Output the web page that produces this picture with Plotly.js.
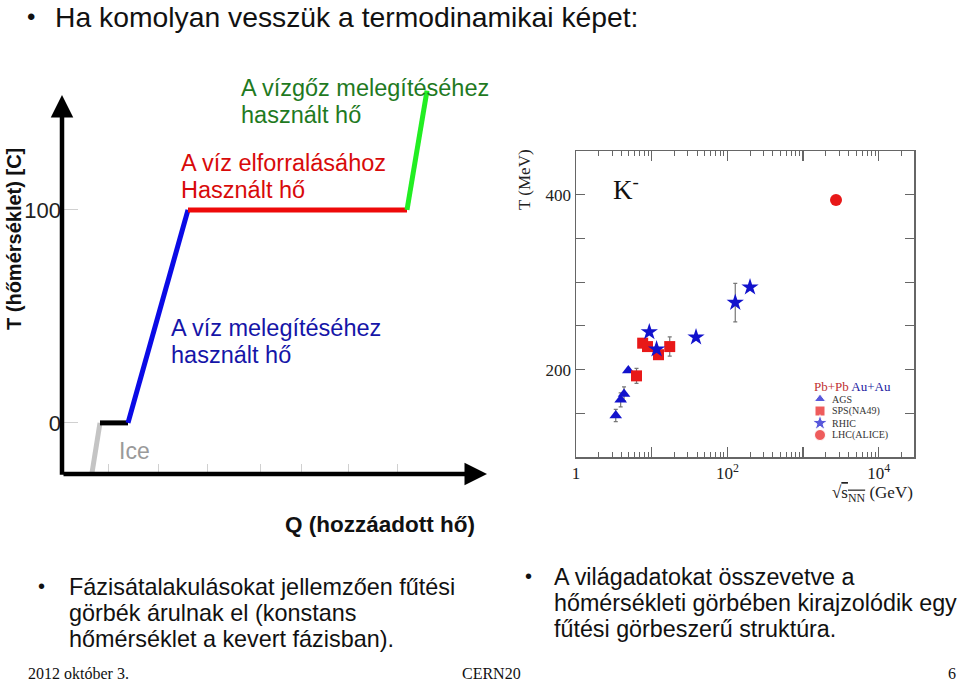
<!DOCTYPE html>
<html>
<head>
<meta charset="utf-8">
<script src="https://cdn.plot.ly/plotly-3.0.1.min.js"></script>
<style>html,body{margin:0;padding:0;background:#fff;}#chart{width:960px;height:684px;}</style>
</head>
<body>
<div id="chart"></div>
<script>
// ---- Left chart: heating curve of water ----
const phaseQ = [30, 38, 66, 126, 345, 365];
const phaseT = [-23.5, 0, 0, 100, 100, 156];
const segmentNames = ['Ice heating', 'Melting', 'Water heating', 'Boiling', 'Steam heating'];
const leftTickVals = [0, 100];
const leftTickText = ['0', '100'];
const leftXTickVals = [46, 96, 145, 198, 239, 286, 335];

// ---- Right chart: K- slope parameter vs sqrt(sNN) ----
const agsE = [3.35, 3.89, 4.31, 4.91];
const agsT = [147.4, 165.4, 172.2, 199];
const agsErr = [7, 8, 8, 0];
const spsE = [6.3, 7.6, 8.8, 12.3, 17.3];
const spsT = [192.8, 230.2, 226.3, 217, 226.3];
const spsErr = [8.5, 4, 4, 5, 11];
const rhicE = [9.3, 11.6, 38.5, 127, 199];
const rhicT = [243, 223.3, 237, 276.6, 294.2];
const rhicErr = [0, 3, 0, 22, 0];
const lhcE = [2722];
const lhcT = [394];
const seriesNames = ['AGS', 'SPS(NA49)', 'RHIC', 'LHC(ALICE)'];
const rightXTickVals = [1, 10, 100, 1000, 10000];
const rightXTickText = ['1', '', '10<sup>2</sup>', '', '10<sup>4</sup>'];
const rightYTickVals = [150, 200, 250, 300, 350, 400];
const rightYTickText = ['', '200', '', '', '', '400'];

const segColors = ['#c4c4c4', '#000000', '#0a0ae6', '#ee0a0a', '#22ee22'];
const BLUE = '#1212cc', RED = '#e81818';
const seriesSymbols = ['triangle-up', 'square', 'star', 'circle'];
const seriesColors = [BLUE, RED, BLUE, RED];
const seriesSizes = [10, 10, 12, 11];

const W = 960, H = 684;
const px = v => v / W;
const py = v => 1 - v / H;

const SANS = 'Liberation Sans, Arial, sans-serif';
const SERIF = 'Liberation Serif, Times New Roman, serif';

const traces = [];
for (let i = 0; i < phaseQ.length - 1; i++) {
  traces.push({
    type: 'scatter', mode: 'lines', xaxis: 'x', yaxis: 'y',
    x: phaseQ.slice(i, i + 2), y: phaseT.slice(i, i + 2),
    name: segmentNames[i], showlegend: false, hoverinfo: 'skip', cliponaxis: false,
    line: {color: segColors[i], width: 5}
  });
}

const errStyle = {type: 'data', visible: true, thickness: 1.2, width: 2, color: '#777'};
const minorVals = [];
[1, 10, 100, 1000, 10000].forEach(d => { for (let k = 2; k <= 9; k++) { if (d * k < 30000) minorVals.push(d * k); } });

const seriesX = [agsE, spsE, rhicE, lhcE];
const seriesY = [agsT, spsT, rhicT, lhcT];
const seriesErr = [agsErr, spsErr, rhicErr, null];
for (let i = 0; i < 4; i++) {
  const t = {
    type: 'scatter', mode: 'markers', xaxis: 'x2', yaxis: 'y2', name: seriesNames[i],
    x: seriesX[i], y: seriesY[i], showlegend: false,
    marker: {symbol: seriesSymbols[i], size: seriesSizes[i] + 1, color: seriesColors[i]}
  };
  if (seriesErr[i]) t.error_y = Object.assign({array: seriesErr[i]}, errStyle);
  traces.push(t);
}
// compact legend keys (one per series, stacked by index)
traces.push({
  type: 'scatter', mode: 'markers', xaxis: 'x3', yaxis: 'y3', showlegend: false, hoverinfo: 'skip',
  x: seriesNames.map(() => 0.5), y: seriesNames.map((_, i) => i),
  marker: {symbol: seriesSymbols, color: seriesColors, size: seriesSizes}
});

function txt(text, x, y, size, color, opts) {
  return Object.assign({
    text: text, xref: 'paper', yref: 'paper', x: px(x), y: py(y),
    xanchor: 'left', yanchor: 'middle', showarrow: false, align: 'left', borderpad: 0,
    font: {family: SANS, size: size, color: color}
  }, opts || {});
}
function lines(arr, x, y0, step, size, color, opts) {
  return arr.map((s, i) => txt(s, x, y0 + i * step, size, color, opts));
}
const serifFont = (s, c) => ({font: {family: SERIF, size: s, color: c}});

const annotations = [
  // slide texts
  txt('•', 26, 16, 24, '#111'),
  txt('Ha komolyan vesszük a termodinamikai képet:', 54, 17, 28.3, '#111'),
  txt('•', 37, 586, 20, '#111'),
  ...lines(['Fázisátalakulásokat jellemzően fűtési', 'görbék árulnak el (konstans', 'hőmérséklet a kevert fázisban).'], 68, 587, 26, 23.4, '#111'),
  txt('•', 524, 576, 20, '#111'),
  ...lines(['A világadatokat összevetve a', 'hőmérsékleti görbében kirajzolódik egy', 'fűtési görbeszerű struktúra.'], 553, 577, 26, 23.3, '#111'),
  txt('2012 október 3.', 27, 673, 16, '#111', serifFont(16, '#111')),
  txt('CERN20', 492, 673, 16, '#111', Object.assign({xanchor: 'center'}, serifFont(16, '#111'))),
  txt('6', 957, 673, 16, '#111', Object.assign({xanchor: 'right'}, serifFont(16, '#111'))),
  // left chart labels
  ...lines(['A vízgőz melegítéséhez', 'használt hő'], 240, 88, 27, 23.5, '#1f7a1f'),
  ...lines(['A víz elforralásához', 'Használt hő'], 180, 163, 27, 23.5, '#d80a0a'),
  ...lines(['A víz melegítéséhez', 'használt hő'], 170, 328, 27, 23.5, '#1515a8'),
  txt('Ice', 118, 451, 23, '#9a9a9a'),
  txt('<b>T (hőmérséklet) [C]</b>', 14, 239, 20, '#111', {xanchor: 'center', textangle: -90}),
  txt('<b>Q (hozzáadott hő)</b>', 380, 524, 22.5, '#111', {xanchor: 'center'}),
  // axis arrows
  {xref: 'x', yref: 'y', axref: 'x', ayref: 'y', x: 0, y: 154, ax: 0, ay: -25, text: '',
   showarrow: true, arrowhead: 2, arrowsize: 1, arrowwidth: 4.5, arrowcolor: '#000'},
  {xref: 'x', yref: 'y', axref: 'x', ayref: 'y', x: 425, y: -24, ax: 0, ay: -24, text: '',
   showarrow: true, arrowhead: 2, arrowsize: 1, arrowwidth: 4.5, arrowcolor: '#000'},
  // right chart labels
  txt('K<sup>-</sup>', 612, 188, 27, '#111', serifFont(27, '#111')),
  txt('T (MeV)', 525, 180, 17, '#222', Object.assign({xanchor: 'center', textangle: -90}, serifFont(17, '#222'))),
  txt('√<span style="text-decoration:overline">s<sub>NN</sub></span> (GeV)', 914, 494, 17, '#222', Object.assign({xanchor: 'right'}, serifFont(17, '#222'))),
  // legend texts
  txt('<span style="color:#c03030">Pb+Pb</span> <span style="color:#2020a0">Au+Au</span>', 813, 386, 13, '#333', serifFont(13, '#333')),
  ...seriesNames.map((s, i) => txt(s, 831, 399 + i * 12, 10, '#333', serifFont(10, '#333')))
];

const layout = {
  width: W, height: H,
  margin: {l: 0, r: 0, t: 0, b: 0, pad: 0},
  paper_bgcolor: '#fff', plot_bgcolor: 'rgba(0,0,0,0)',
  showlegend: false,
  xaxis: {
    domain: [px(62), px(487)], range: [0, 425], anchor: 'y',
    showline: false, zeroline: false, showgrid: false,
    tickmode: 'array', tickvals: leftXTickVals, ticktext: leftXTickVals.map(() => ''),
    ticks: 'inside', ticklen: 10, tickcolor: '#d0d0d0', tickwidth: 1
  },
  yaxis: {
    domain: [py(474), py(90)], range: [-24, 156.3], anchor: 'x',
    showline: false, zeroline: false, showgrid: false,
    tickmode: 'array', tickvals: leftTickVals, ticktext: leftTickText,
    ticks: 'inside', ticklen: 16, tickcolor: '#d0d0d0', tickwidth: 1,
    tickfont: {family: SANS, size: 22, color: '#222'}
  },
  xaxis2: {
    type: 'log', domain: [px(576), px(914)], range: [0, 4.465], anchor: 'y2',
    showline: true, linecolor: '#666', linewidth: 1.5, mirror: 'ticks',
    showgrid: false, zeroline: false,
    tickmode: 'array', tickvals: rightXTickVals, ticktext: rightXTickText,
    ticks: 'inside', ticklen: 10, tickcolor: '#666', tickwidth: 1.2,
    tickfont: {family: SERIF, size: 17, color: '#222'},
    minor: {tickmode: 'array', tickvals: minorVals, ticks: 'inside', ticklen: 5, tickcolor: '#666', tickwidth: 1, showgrid: false}
  },
  yaxis2: {
    domain: [py(457), py(151)], range: [100, 450], anchor: 'x2',
    showline: true, linecolor: '#666', linewidth: 1.5, mirror: 'ticks',
    showgrid: false, zeroline: false,
    tickmode: 'array', tickvals: rightYTickVals, ticktext: rightYTickText,
    ticks: 'inside', ticklen: 9, tickcolor: '#666', tickwidth: 1.2,
    tickfont: {family: SERIF, size: 17, color: '#222'}
  },
  xaxis3: {
    domain: [px(813), px(827)], range: [0, 1], anchor: 'y3', visible: false, fixedrange: true
  },
  yaxis3: {
    domain: [py(441), py(393)], range: [3.5, -0.5], anchor: 'x3', visible: false, fixedrange: true
  },
  annotations: annotations
};

Plotly.newPlot('chart', traces, layout, {displayModeBar: false, staticPlot: true});
</script>
</body>
</html>
